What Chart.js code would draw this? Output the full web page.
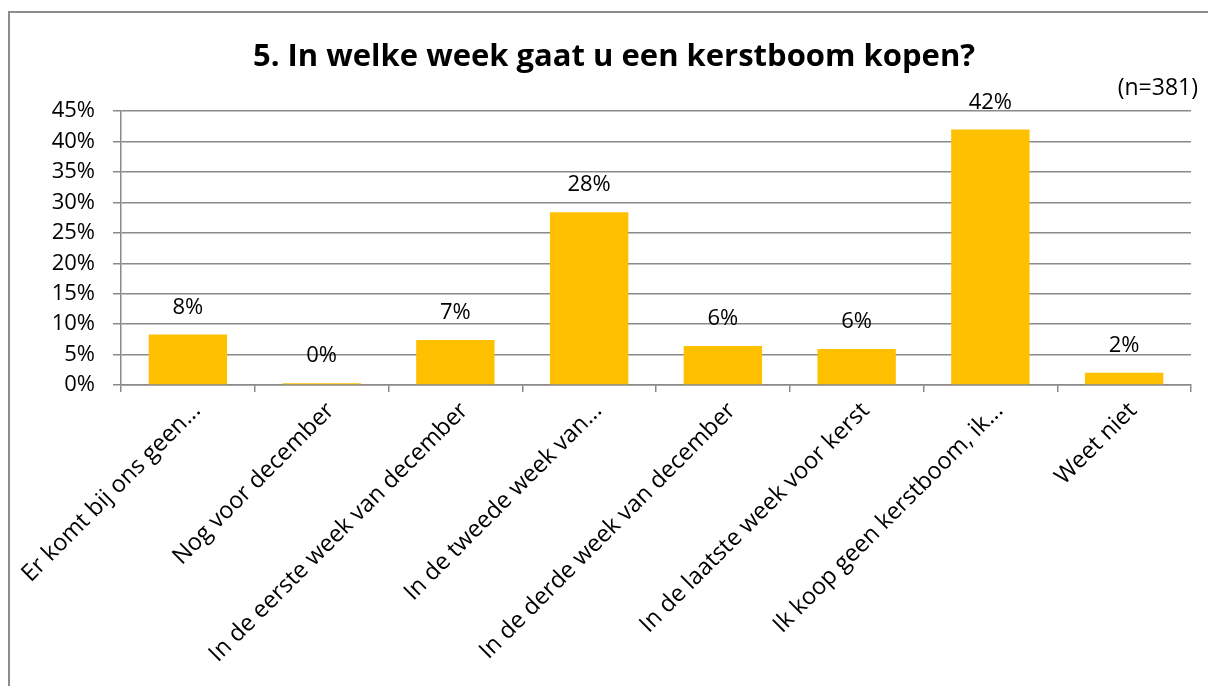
<!DOCTYPE html>
<html>
<head>
<meta charset="utf-8">
<script src="https://cdn.jsdelivr.net/npm/chart.js@4"></script>
<style>
  html, body { margin: 0; padding: 0; background: #fff; }
  #wrap { position: relative; width: 1208px; height: 686px; overflow: hidden; }
  #frame { position: absolute; left: 8px; top: 11px; width: 1210px; height: 690px;
           border-left: 2px solid #8c8c8c; border-top: 2px solid #8c8c8c; pointer-events: none; }
  canvas { position: absolute; left: 0; top: 0; }
</style>
</head>
<body>
<div id="wrap">
  <canvas id="c" width="1208" height="686"></canvas>
  <div id="frame"></div>
</div>
<script>
const titleText = "5. In welke week gaat u een kerstboom kopen?";
const sampleNote = "(n=381)";
const categories = [
  "Er komt bij ons geen...",
  "Nog voor december",
  "In de eerste week van december",
  "In de tweede week van...",
  "In de derde week van december",
  "In de laatste week voor kerst",
  "Ik koop geen kerstboom, ik...",
  "Weet niet"
];
const values = [8.3, 0.3, 7.4, 28.4, 6.4, 5.9, 42.0, 2.0];
const yTicks = [0, 5, 10, 15, 20, 25, 30, 35, 40, 45];

const FONT = "'Open Sans', 'Liberation Sans', sans-serif";
const GRID = '#8a8a8a';

const barLabels = {
  id: 'barLabels',
  afterDatasetsDraw(chart) {
    const ctx = chart.ctx;
    const meta = chart.getDatasetMeta(0);
    ctx.save();
    ctx.font = "22px " + FONT;
    ctx.fillStyle = '#000';
    ctx.textAlign = 'center';
    ctx.textBaseline = 'middle';
    meta.data.forEach((el, i) => {
      ctx.fillText(Math.round(values[i]) + '%', el.x, el.y - 27);
    });
    ctx.restore();
  }
};

const noteText = {
  id: 'noteText',
  afterDraw(chart) {
    const ctx = chart.ctx;
    ctx.save();
    ctx.font = "23px " + FONT;
    ctx.fillStyle = '#000';
    ctx.textAlign = 'right';
    ctx.textBaseline = 'middle';
    ctx.fillText(sampleNote, 1198, 88);
    ctx.restore();
  }
};

new Chart(document.getElementById('c'), {
  type: 'bar',
  data: {
    labels: categories,
    datasets: [{
      data: values,
      backgroundColor: '#FFC000',
      borderWidth: 0,
      barPercentage: 0.586,
      categoryPercentage: 1.0
    }]
  },
  options: {
    responsive: false,
    animation: false,
    devicePixelRatio: 1,
    layout: { padding: { left: 37, right: 17, top: 0, bottom: 0 } },
    plugins: {
      legend: { display: false },
      tooltip: { enabled: false },
      title: {
        display: true,
        text: titleText,
        color: '#000',
        font: { family: FONT, size: 31, weight: 'bold', lineHeight: 1.2 },
        padding: { top: 39, bottom: 35 }
      }
    },
    scales: {
      x: {
        afterFit(scale) { scale.height = 301; scale.paddingLeft = 0; scale.paddingRight = 0; },
        grid: { drawOnChartArea: false, drawTicks: true, tickLength: 7, color: GRID, lineWidth: 1.5, offset: true },
        border: { color: GRID, width: 1.5 },
        ticks: {
          autoSkip: false, minRotation: 45, maxRotation: 45,
          color: '#000', padding: 5, labelOffset: 9,
          font: { family: FONT, size: 23.5 }
        }
      },
      y: {
        min: 0, max: 45,
        afterFit(scale) { scale.width = 84; },
        afterBuildTicks(scale) { scale.ticks = yTicks.map(v => ({ value: v })); },
        grid: { drawOnChartArea: true, drawTicks: true, tickLength: 8, color: GRID, lineWidth: 1.5 },
        border: { color: GRID, width: 1.5 },
        ticks: {
          color: '#000', padding: 18,
          font: { family: FONT, size: 22 },
          callback: v => v + '%'
        }
      }
    }
  },
  plugins: [barLabels, noteText]
});
</script>
</body>
</html>
